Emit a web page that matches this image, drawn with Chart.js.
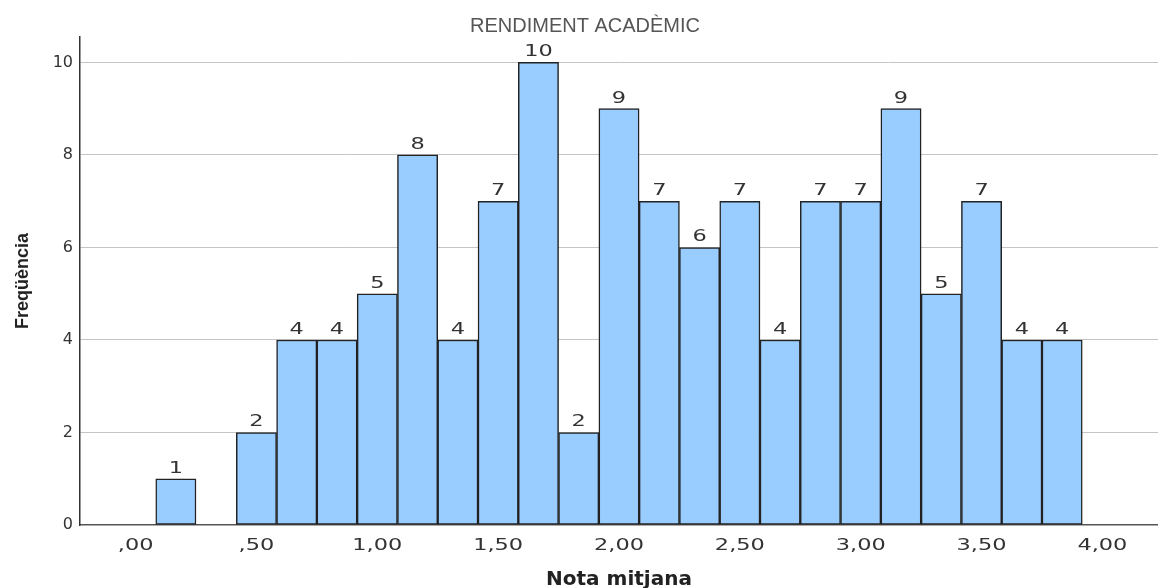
<!DOCTYPE html>
<html>
<head>
<meta charset="utf-8">
<script src="https://cdn.jsdelivr.net/npm/chart.js@4"></script>
<style>
  html, body { margin: 0; padding: 0; background: #fff; }
  #wrap { width: 1158px; height: 588px; }
</style>
</head>
<body>
<div id="wrap"><canvas id="histo"></canvas></div>
<script>
// bin centres (width 1/6) and frequencies
const binCenters = [0.1667, 0.3333, 0.5, 0.6667, 0.8333, 1.0, 1.1667, 1.3333, 1.5, 1.6667, 1.8333, 2.0,
                    2.1667, 2.3333, 2.5, 2.6667, 2.8333, 3.0, 3.1667, 3.3333, 3.5, 3.6667, 3.8333];
const counts = [1, 0, 2, 4, 4, 5, 8, 4, 7, 10, 2, 9, 7, 6, 7, 4, 7, 7, 9, 5, 7, 4, 4];

const xTickValues = [0, 0.5, 1, 1.5, 2, 2.5, 3, 3.5, 4];
const xTickLabels = [",00", ",50", "1,00", "1,50", "2,00", "2,50", "3,00", "3,50", "4,00"];
const yTickValues = [0, 2, 4, 6, 8, 10];

const inkColor = "#333333";
const wideText = 1.36; // the original export is stretched sideways

function drawWide(ctx, text, x, y) {
  ctx.save();
  ctx.translate(x, y);
  ctx.scale(wideText, 1);
  ctx.fillText(text, 0, 0);
  ctx.restore();
}

// value labels above bars + x tick labels
const wideLabels = {
  id: "wideLabels",
  afterDatasetsDraw(chart) {
    const ctx = chart.ctx;
    const meta = chart.getDatasetMeta(0);
    const xs = chart.scales.x;
    ctx.save();
    ctx.font = "16.5px 'DejaVu Sans'";
    ctx.fillStyle = inkColor;
    ctx.textAlign = "center";
    ctx.textBaseline = "alphabetic";
    meta.data.forEach(function (bar, i) {
      if (!counts[i]) return;
      drawWide(ctx, String(counts[i]), bar.x, bar.y - 6);
    });
    ctx.textBaseline = "top";
    xTickValues.forEach(function (v, i) {
      drawWide(ctx, xTickLabels[i], xs.getPixelForValue(v), chart.chartArea.bottom + 12);
    });
    ctx.restore();
  }
};

new Chart(document.getElementById("histo"), {
  type: "bar",
  data: {
    datasets: [{
      data: binCenters.map(function (x, i) { return { x: x, y: counts[i] || null }; }),
      backgroundColor: "#99ccff",
      borderColor: "#222222",
      borderWidth: 1.5,
      borderSkipped: false,
      barPercentage: 1,
      categoryPercentage: 1
    }]
  },
  options: {
    responsive: true,
    maintainAspectRatio: false,
    animation: false,
    layout: { padding: { left: 12, right: 0, top: 0, bottom: 0 } },
    plugins: {
      legend: { display: false },
      tooltip: { enabled: false },
      title: {
        display: true,
        text: "RENDIMENT ACADÈMIC",
        color: "#555555",
        font: { family: "'Liberation Sans'", size: 20, weight: "normal" },
        padding: { top: 14, bottom: -1 }
      }
    },
    scales: {
      x: {
        type: "linear",
        offset: false,
        min: -0.23,
        max: 4.23,
        afterBuildTicks: function (axis) {
          axis.ticks = xTickValues.map(function (v) { return { value: v }; });
        },
        afterFit: function (axis) { axis.height = 63; },
        ticks: { display: false },
        grid: { display: false, drawTicks: false },
        border: { display: true, color: "#555555", width: 1.5 },
        title: {
          display: true,
          text: "Nota mitjana",
          color: "#222222",
          font: { family: "'DejaVu Sans'", size: 20, weight: "bold" },
          padding: { top: 0, bottom: -4 }
        }
      },
      y: {
        min: 0,
        max: 10.55,
        afterBuildTicks: function (axis) {
          axis.ticks = yTickValues.map(function (v) { return { value: v }; });
        },
        afterFit: function (axis) { axis.width = 68; },
        ticks: {
          color: inkColor,
          padding: 7,
          font: { family: "'DejaVu Sans'", size: 16 }
        },
        grid: {
          drawTicks: false,
          color: function (c) { return c.tick && c.tick.value === 0 ? "rgba(0,0,0,0)" : "#c4c4c4"; },
          lineWidth: 1
        },
        border: { display: true, color: "#333333", width: 1.5 },
        title: {
          display: true,
          text: "Freqüència",
          color: "#222222",
          font: { family: "'Liberation Sans'", size: 18, weight: "bold" },
          padding: { top: 0, bottom: 0 }
        }
      }
    }
  },
  plugins: [wideLabels]
});
</script>
</body>
</html>
